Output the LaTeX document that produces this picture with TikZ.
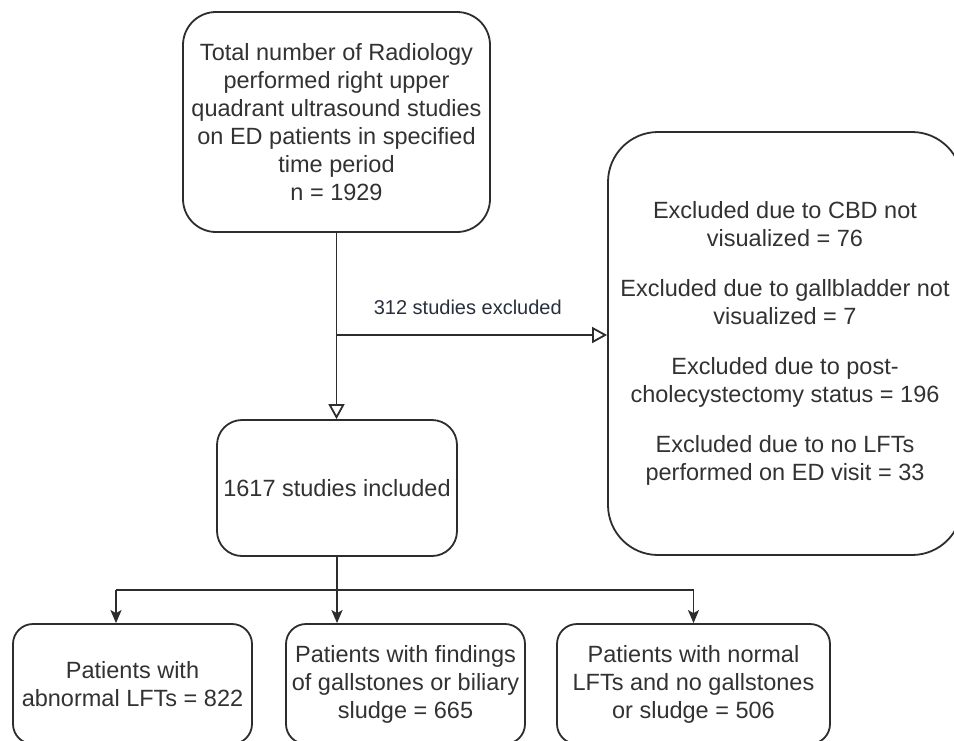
\documentclass[tikz,border=0pt]{standalone}
\usepackage{fontspec}
\setmainfont{Liberation Sans}
\usetikzlibrary{arrows.meta}
\definecolor{ink}{RGB}{45,45,45}
\definecolor{txt}{RGB}{50,50,50}
\definecolor{lblink}{RGB}{40,48,60}
\tikzset{
  box/.style={draw=ink, line width=1.8pt, fill=white, text=txt, align=center,
    inner sep=0pt, font=\fontsize{23.5}{28}\selectfont},
  openarr/.style={draw=ink, line width=1.8pt, -{Triangle[open, length=15pt, width=16pt, fill=white]}},
  fillarr/.style={draw=ink, line width=1.8pt, -{Stealth[length=13pt, width=11pt, inset=3pt]}},
  plainline/.style={draw=ink, line width=1.8pt},
  lbl/.style={text=lblink, font=\fontsize{20}{24}\selectfont}
}
\begin{document}
\begin{tikzpicture}[x=1pt, y=-1pt]
\useasboundingbox (0,0) rectangle (954,740);
\fill[white] (0,0) rectangle (954,740);

\node[box, minimum width=307pt, minimum height=220pt, rounded corners=33pt] (top) at (336.5,122)
  {Total number of Radiology\\performed right upper\\quadrant ultrasound studies\\on ED patients in specified\\time period\\n = 1929};

\node[box, minimum width=240pt, minimum height=136pt, rounded corners=25pt] (mid) at (337,488)
  {1617 studies included};

\node[box, minimum width=354pt, minimum height=423pt, rounded corners=50pt] (excl) at (785,343.5)
  {Excluded due to CBD not\\visualized = 76\\[22pt]
   Excluded due to gallbladder not\\visualized = 7\\[22pt]
   Excluded due to post-\\cholecystectomy status = 196\\[22pt]
   Excluded due to no LFTs\\performed on ED visit = 33};

\node[box, minimum width=239pt, minimum height=120pt, rounded corners=20pt] (b1) at (132.5,684)
  {Patients with\\abnormal LFTs = 822};
\node[box, minimum width=239pt, minimum height=120pt, rounded corners=20pt] (b2) at (405.5,684)
  {Patients with findings\\of gallstones or biliary\\sludge = 665};
\node[box, minimum width=273pt, minimum height=120pt, rounded corners=20pt] (b3) at (693.5,684)
  {Patients with normal\\LFTs and no gallstones\\or sludge = 506};

% exclusion branch
\coordinate (j) at (top.south |- 0,335);
\draw[openarr] (top.south) -- (top.south |- mid.north);
\draw[openarr] (j) -- (j -| excl.west)
  node[lbl, midway, above=16pt, xshift=-4pt] (lab) {312 studies excluded};

% bottom split
\coordinate (k) at (mid.south |- 0,590);
\coordinate (kl) at (116,590);
\coordinate (kr) at (693.5,590);
\draw[plainline] (kl) -- (kr);
\draw[fillarr] (mid.south) -- (mid.south |- b2.north);
\draw[fillarr] (kl) -- (kl |- b1.north);
\draw[fillarr] (kr) -- (b3.north);
\end{tikzpicture}
\end{document}
